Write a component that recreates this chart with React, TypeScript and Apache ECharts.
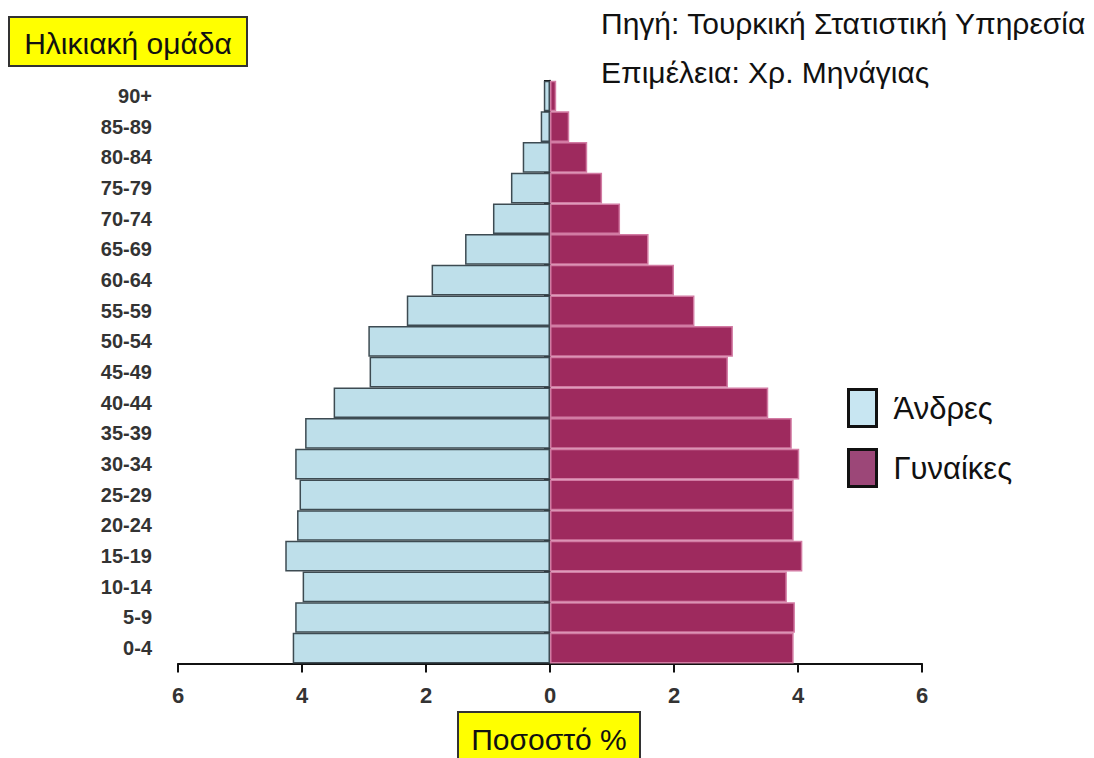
import React, { useEffect, useRef } from "react";
import * as echarts from "echarts";

const ageGroups = [
  "0-4", "5-9", "10-14", "15-19", "20-24", "25-29", "30-34", "35-39", "40-44",
  "45-49", "50-54", "55-59", "60-64", "65-69", "70-74", "75-79", "80-84", "85-89", "90+",
];
const men = [4.15, 4.11, 3.99, 4.27, 4.08, 4.04, 4.11, 3.95, 3.49, 2.91, 2.93, 2.31, 1.91, 1.37, 0.92, 0.63, 0.44, 0.15, 0.1];
const women = [3.93, 3.95, 3.82, 4.07, 3.93, 3.93, 4.02, 3.9, 3.52, 2.87, 2.95, 2.33, 2.0, 1.59, 1.13, 0.84, 0.6, 0.31, 0.1];
const xTicks = { min: -6, max: 6, interval: 2 };
const menLabel = "Άνδρες";
const womenLabel = "Γυναίκες";

const FONT = "'Liberation Sans', Arial, sans-serif";

export default function App() {
  const ref = useRef<HTMLDivElement>(null);
  useEffect(() => {
    document.body.style.margin = "0";
    const chart = echarts.init(ref.current!, null, { renderer: "svg" });
    chart.setOption({
      animation: false,
      backgroundColor: "#ffffff",
      grid: { left: 178, right: 172, top: 80.7, bottom: 94.5, containLabel: false },
      xAxis: {
        type: "value",
        min: xTicks.min,
        max: xTicks.max,
        interval: xTicks.interval,
        splitLine: { show: false },
        axisLine: { show: true, onZero: false, lineStyle: { color: "#111", width: 2 } },
        axisTick: { show: true, length: 9, lineStyle: { color: "#111", width: 2 } },
        axisLabel: {
          formatter: (v: number) => String(Math.abs(v)),
          fontFamily: FONT,
          fontWeight: "bold",
          fontSize: 22,
          color: "#333",
          margin: 21,
        },
      },
      yAxis: [
        {
          type: "category",
          data: ageGroups,
          axisLine: { show: false, onZero: false },
          axisTick: { show: false },
          axisLabel: {
            fontFamily: FONT,
            fontWeight: "bold",
            fontSize: 20,
            color: "#333",
            margin: 26,
          },
        },
        {
          type: "category",
          data: ageGroups,
          position: "left",
          axisLine: { show: true, onZero: true, lineStyle: { color: "#111", width: 2 } },
          axisTick: { show: true, length: 6, lineStyle: { color: "#111", width: 2 } },
          axisLabel: { show: false },
        },
      ],
      legend: {
        orient: "vertical",
        left: 847,
        top: 388,
        padding: 0,
        itemWidth: 28,
        itemHeight: 37,
        itemGap: 20,
        icon: "rect",
        textStyle: { fontFamily: FONT, fontSize: 31, color: "#111", padding: [0, 0, 0, 12] },
        data: [
          { name: menLabel, itemStyle: { color: "#C8E6F2", borderColor: "#111", borderWidth: 3 } },
          { name: womenLabel, itemStyle: { color: "#9C4778", borderColor: "#111", borderWidth: 3 } },
        ],
      },
      series: [
        {
          name: menLabel,
          type: "bar",
          stack: "pop",
          yAxisIndex: 0,
          barCategoryGap: "0%",
          data: men.map((v) => -v),
          itemStyle: { color: "#BEDFEA", borderColor: "#3d4b52", borderWidth: 1.5 },
        },
        {
          name: womenLabel,
          type: "bar",
          stack: "pop",
          yAxisIndex: 0,
          barCategoryGap: "0%",
          data: women,
          itemStyle: { color: "#9E2A5E", borderColor: "#d27ba3", borderWidth: 1.5 },
        },
      ],
      graphic: [
        {
          type: "group",
          children: [
            {
              type: "rect",
              shape: { x: 9, y: 17, width: 238, height: 49 },
              style: { fill: "#FFFF00", stroke: "#333", lineWidth: 2 },
            },
            {
              type: "text",
              x: 128,
              y: 43,
              style: {
                text: "Ηλικιακή ομάδα",
                font: `30px ${FONT}`,
                fill: "#111",
                align: "center",
                verticalAlign: "middle",
              },
            },
            {
              type: "rect",
              shape: { x: 458, y: 712, width: 182, height: 52 },
              style: { fill: "#FFFF00", stroke: "#333", lineWidth: 2 },
            },
            {
              type: "text",
              x: 549,
              y: 739,
              style: {
                text: "Ποσοστό %",
                font: `30px ${FONT}`,
                fill: "#111",
                align: "center",
                verticalAlign: "middle",
              },
            },
            {
              type: "text",
              x: 601,
              y: 23,
              style: {
                text: "Πηγή: Τουρκική Στατιστική Υπηρεσία",
                font: `30px ${FONT}`,
                fill: "#111",
                align: "left",
                verticalAlign: "middle",
              },
            },
            {
              type: "text",
              x: 601,
              y: 72,
              style: {
                text: "Επιμέλεια: Χρ. Μηνάγιας",
                font: `30px ${FONT}`,
                fill: "#111",
                align: "left",
                verticalAlign: "middle",
              },
            },
          ],
        },
      ],
    });
    return () => chart.dispose();
  }, []);
  return <div ref={ref} style={{ width: 1094, height: 758 }} />;
}
